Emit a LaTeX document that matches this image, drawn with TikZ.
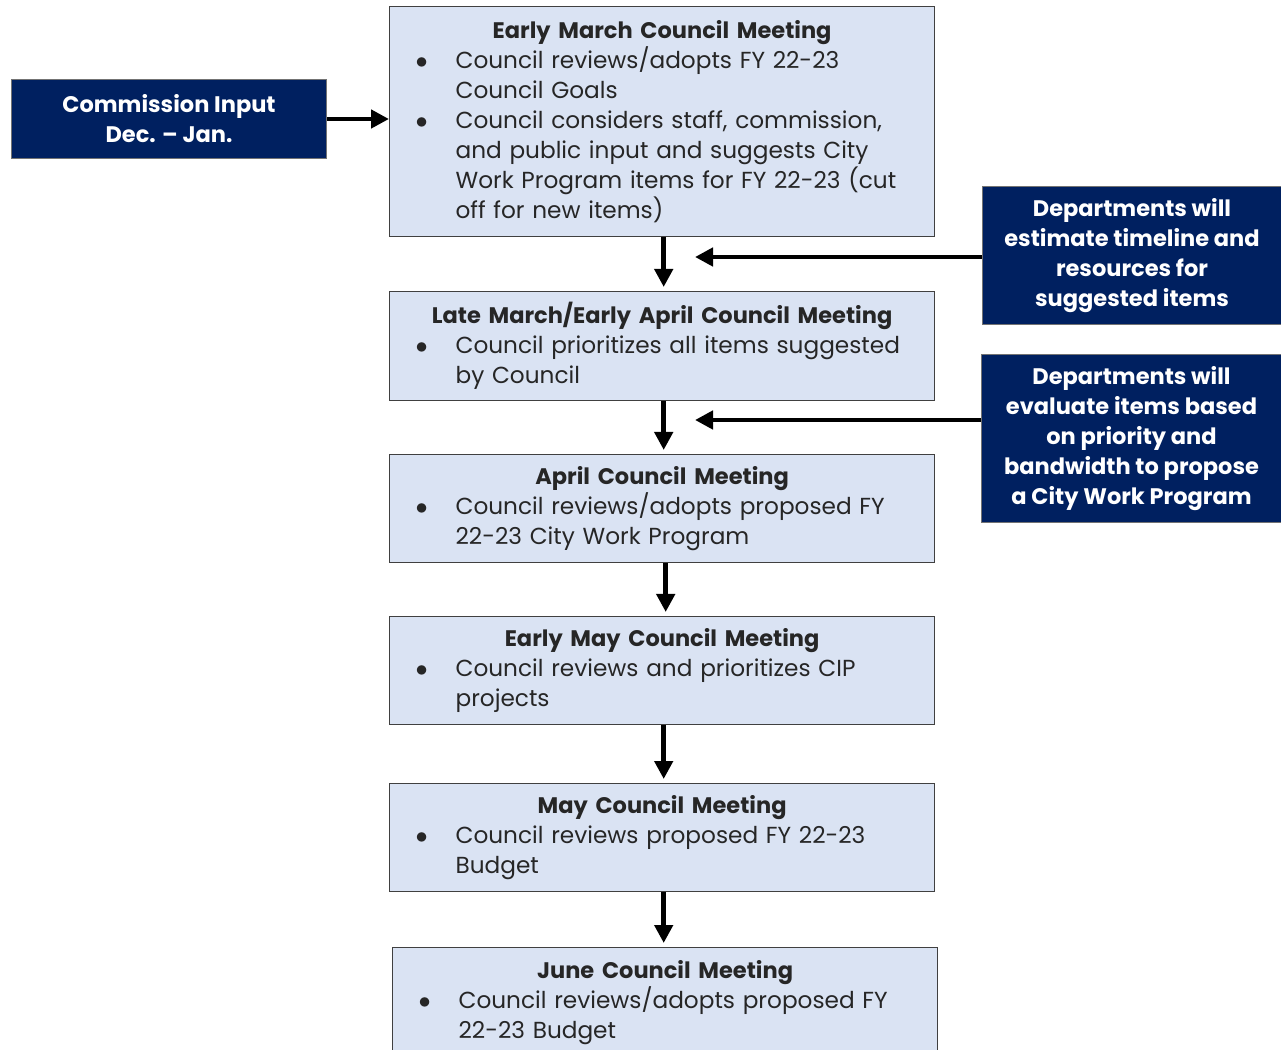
\documentclass[tikz,border=0pt]{standalone}
\usepackage{fontspec}
\setmainfont{Poppins}
\usetikzlibrary{arrows.meta}

\definecolor{navy}{HTML}{002060}
\definecolor{paleblue}{HTML}{DAE3F3}
\newlength{\pxu}
\setlength{\pxu}{0.025cm}
\newcommand{\bitem}{\par\noindent\hangindent=40\pxu\hangafter=1\makebox[40\pxu][l]{$\bullet$}}
\newcommand{\mtitle}[1]{{\centering\fontsize{16pt}{21.3pt}\selectfont\bfseries #1\par}}

\begin{document}
\begin{tikzpicture}[x=0.025cm, y=-0.025cm,
            meeting/.style={draw=black!75, line width=1.2\pxu, fill=paleblue, anchor=north west, text width=493\pxu, inner xsep=26\pxu, inner ysep=0pt, minimum width=545\pxu, align=left, text=black!85, font=\fontsize{16.5pt}{21.3pt}\selectfont},
            dept/.style={draw=black!55, line width=1\pxu, fill=navy, text=white, anchor=north west, inner sep=0pt, align=center, font=\fontsize{16pt}{21.3pt}\selectfont\bfseries},
            arrow/.style={-{Triangle[length=0.45cm, width=0.45cm]}, line width=0.1125cm, shorten >=0.1cm}
        ]
\useasboundingbox (0,0) rectangle (1281,1050);
\clip (0,0) rectangle (1281,1050);

% Meeting boxes down the middle
            \node (early) [meeting, minimum height=230\pxu] at (389,6) {\mtitle{Early March Council Meeting}
                \bitem Council reviews/adopts FY 22-23\newline Council Goals
                \bitem Council considers staff, commission,\newline and public input and suggests City\newline Work Program items for FY 22-23 (cut\newline off for new items)\par};
            \node (late) [meeting, minimum height=109\pxu] at (389,291) {\mtitle{Late March/Early April Council Meeting}
                \bitem Council prioritizes all items suggested\newline by Council\par};
            \node (april) [meeting, minimum height=108\pxu] at (389,454) {\mtitle{April Council Meeting}
                \bitem Council reviews/adopts proposed FY\newline 22-23 City Work Program\par};
            \node (cip) [meeting, minimum height=108\pxu] at (389,616) {\mtitle{Early May Council Meeting}
                \bitem Council reviews and prioritizes CIP\newline projects\par};
            \node (may) [meeting, minimum height=108\pxu] at (389,783) {\mtitle{May Council Meeting}
                \bitem Council reviews proposed FY 22-23\newline Budget\par};
            \node (june) [meeting, minimum height=110\pxu] at (392,947) {\mtitle{June Council Meeting}
                \bitem Council reviews/adopts proposed FY\newline 22-23 Budget\par};

% Input boxes on the sides
            \node (commission) [dept, minimum width=315\pxu, minimum height=79\pxu] at (11,79) {Commission Input\\Dec. – Jan.};
            \node (estimate) [dept, minimum width=299\pxu, minimum height=138\pxu] at (982,186) {Departments will\\estimate timeline and\\resources for\\suggested items};
            \node (evaluate) [dept, minimum width=300\pxu, minimum height=168\pxu] at (981,354) {Departments will\\evaluate items based\\on priority and\\bandwidth to propose\\a City Work Program};

% Free ends of the side arrows
            \coordinate (tipA) at (695,257);
            \coordinate (tipB) at (695,420);

% Arrows down the column
            \draw [arrow, shorten >=0pt] (commission.east) -- (early.west |- commission.east);
            \draw [arrow] ([xshift=0.04cm]early.south) -- ([xshift=0.04cm]early.south |- late.north);
            \draw [arrow] ([xshift=0.04cm]late.south) -- ([xshift=0.04cm]late.south |- april.north);
            \draw [arrow] ([xshift=0.09cm]april.south) -- ([xshift=0.09cm]april.south |- cip.north);
            \draw [arrow] ([xshift=0.04cm]cip.south) -- ([xshift=0.04cm]cip.south |- may.north);
            \draw [arrow] ([xshift=0.04cm]may.south) -- ([xshift=0.04cm]may.south |- june.north);

% Arrows from the departments
            \draw [arrow, shorten >=0pt] (estimate.west |- tipA) -- (tipA);
            \draw [arrow, shorten >=0pt] (evaluate.west |- tipB) -- (tipB);

        \end{tikzpicture}
\end{document}
